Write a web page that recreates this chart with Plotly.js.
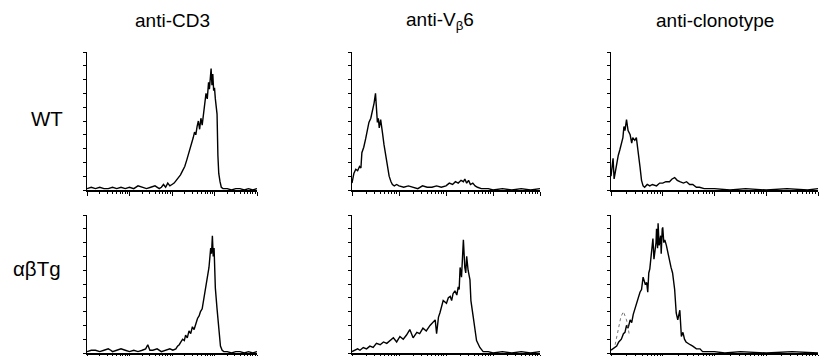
<!DOCTYPE html>
<html><head><meta charset="utf-8">
<script src="https://cdn.plot.ly/plotly-3.0.1.min.js"></script>
<style>html,body{margin:0;padding:0;background:#fff}#chart{width:820px;height:356px}</style>
</head><body><div id="chart"></div>
<script>
// Column titles and row labels
const columnTitles = ["anti-CD3", "anti-V<sub>β</sub>6", "anti-clonotype"];
const rowLabels = ["WT", "αβTg"];

// Histogram data: x = fluorescence (log decades, 0..4), y = relative cell number (0..100)
const cd3WtX = [0,0.1,0.2,0.3,0.4,0.5,0.6,0.7,0.8,0.9,1.0,1.1,1.2,1.3,1.4,1.5,1.6,1.7,1.75,1.8,1.85,1.9,1.95,2.0,2.05,2.1,2.15,2.2,2.25,2.3,2.35,2.4,2.45,2.5,2.53,2.56,2.59,2.62,2.65,2.68,2.71,2.74,2.77,2.8,2.83,2.86,2.88,2.9,2.92,2.94,2.96,2.98,3.0,3.02,3.04,3.06,3.08,3.1,3.13,3.16,3.2,3.3,3.4,3.5,3.6,3.7,3.8,3.9,4.0];
const cd3WtY = [1,2,1,2,1,1,2,1,2,1,2,1,3,2,1,2,3,1,2,4,2,5,3,4,5,7,9,11,14,17,22,27,33,38,42,40,46,50,44,52,47,55,63,70,66,78,73,82,88,76,84,72,74,66,60,55,25,12,6,2,1,1,0,1,1,0,1,0,1];

const vb6WtX = [0,0.04,0.08,0.12,0.16,0.19,0.21,0.25,0.29,0.33,0.36,0.4,0.43,0.47,0.5,0.52,0.54,0.56,0.58,0.61,0.63,0.65,0.68,0.72,0.76,0.79,0.83,0.86,0.9,0.95,1.0,1.1,1.2,1.3,1.4,1.5,1.6,1.7,1.8,1.9,2.0,2.07,2.14,2.2,2.26,2.32,2.37,2.4,2.44,2.48,2.52,2.57,2.62,2.67,2.75,2.9,3.0,3.2,3.4,3.6,3.8,4.0];
const vb6WtY = [5,12,15,14,17,16,27,31,37,44,49,52,56,63,70,58,49,52,45,51,47,41,33,25,16,10,6,4,3,4,3,2,3,2,1,3,2,2,3,2,3,5,4,6,5,7,6,8,5,7,4,5,3,2,1,1,0,1,0,1,0,1];

const cloWtX = [0,0.01,0.04,0.06,0.08,0.11,0.14,0.17,0.2,0.23,0.25,0.27,0.3,0.33,0.37,0.4,0.42,0.46,0.49,0.52,0.56,0.59,0.62,0.65,0.7,0.75,0.8,0.88,0.94,1.0,1.06,1.13,1.18,1.23,1.28,1.33,1.4,1.46,1.52,1.58,1.65,1.71,1.8,2.0,2.3,2.6,3.0,3.4,3.8,4.0];
const cloWtY = [10,13,23,8,12,20,25,29,34,38,46,43,51,43,40,34,38,36,38,27,17,7,3,2,4,3,4,3,5,5,6,6,8,9,7,6,5,6,4,4,2,2,1,1,0,1,0,1,0,1];

const cd3TgX = [0,0.1,0.2,0.3,0.4,0.5,0.56,0.6,0.7,0.8,0.9,1.0,1.1,1.2,1.3,1.38,1.43,1.48,1.55,1.65,1.75,1.85,1.95,2.02,2.09,2.13,2.17,2.21,2.25,2.29,2.32,2.36,2.4,2.44,2.48,2.52,2.56,2.6,2.64,2.67,2.71,2.75,2.79,2.83,2.87,2.91,2.93,2.95,2.97,2.99,3.02,3.06,3.08,3.1,3.12,3.14,3.18,3.22,3.3,3.4,3.5,3.6,3.7,3.8,3.9,4.0];
const cd3TgY = [1,2,2,1,2,3,2,1,2,3,2,1,2,1,2,3,6,2,2,3,1,2,3,2,3,5,6,8,10,9,13,11,16,14,19,17,21,25,27,30,32,40,48,57,62,76,72,85,70,76,47,32,24,20,12,5,2,1,1,0,1,1,0,1,0,1];

const vb6TgX = [0,0.06,0.12,0.17,0.24,0.31,0.38,0.45,0.52,0.6,0.67,0.74,0.81,0.88,0.95,1.02,1.09,1.16,1.23,1.3,1.38,1.44,1.51,1.58,1.66,1.71,1.77,1.8,1.84,1.87,1.94,2.01,2.05,2.09,2.12,2.15,2.19,2.23,2.26,2.28,2.3,2.33,2.35,2.37,2.4,2.42,2.44,2.47,2.51,2.53,2.58,2.62,2.65,2.72,2.79,2.9,3.0,3.2,3.4,3.6,3.8,4.0];
const vb6TgY = [1,2,3,2,4,3,5,4,7,6,8,7,9,11,8,12,10,13,17,11,15,14,18,16,20,22,24,14,26,29,38,36,40,41,38,43,45,42,48,46,62,55,76,82,62,58,70,60,53,38,26,16,9,4,1,1,0,1,0,1,0,1];

const cloTgX = [0,0.03,0.06,0.11,0.15,0.2,0.24,0.27,0.3,0.33,0.37,0.4,0.43,0.46,0.49,0.52,0.56,0.59,0.62,0.66,0.69,0.71,0.73,0.75,0.77,0.79,0.81,0.83,0.85,0.87,0.88,0.9,0.91,0.93,0.94,0.96,0.97,0.99,1.0,1.02,1.04,1.07,1.1,1.13,1.16,1.19,1.23,1.26,1.29,1.33,1.36,1.39,1.42,1.45,1.48,1.53,1.58,1.65,1.72,1.77,1.85,2.0,2.2,2.5,3.0,3.5,4.0];
const cloTgY = [2,3,4,5,8,10,14,15,20,18,24,22,28,32,36,40,44,46,55,50,51,44,58,61,70,75,83,68,73,80,90,76,94,78,80,85,72,90,91,80,82,78,72,68,62,58,46,29,24,31,12,15,10,8,7,6,5,3,3,1,1,1,0,1,0,1,0];

// Faint control overlay in the αβTg anti-clonotype panel
const cloTgCtrlX = [0.08,0.14,0.19,0.24,0.3,0.36];
const cloTgCtrlY = [6,18,26,30,24,12];

const panels = [
  {x: cd3WtX, y: cd3WtY}, {x: vb6WtX, y: vb6WtY}, {x: cloWtX, y: cloWtY},
  {x: cd3TgX, y: cd3TgY}, {x: vb6TgX, y: vb6TgY}, {x: cloTgX, y: cloTgY}
];

const colDomains = [[87/820, 257/820], [352/820, 540/820], [611/820, 818/820]];
const rowDomains = [[1 - 190/356, 1 - 52/356], [1 - 353/356, 1 - 215/356]];

const decadeTicks = [0,1,2,3,4];
const minorTicks = [];
for (let d = 0; d < 4; d++) for (let k = 2; k <= 9; k++) minorTicks.push(d + Math.log10(k));

const traces = [];
const layout = {
  width: 820, height: 356,
  margin: {l: 0, r: 0, t: 0, b: 0},
  paper_bgcolor: '#ffffff', plot_bgcolor: '#ffffff',
  showlegend: false,
  font: {family: 'Liberation Sans, Arial, sans-serif', color: '#000'},
  annotations: []
};

panels.forEach((p, i) => {
  const n = i + 1;
  const xa = n === 1 ? 'x' : 'x' + n;
  const ya = n === 1 ? 'y' : 'y' + n;
  traces.push({
    type: 'scatter', mode: 'lines', x: p.x, y: p.y,
    xaxis: xa, yaxis: ya,
    line: {color: '#000', width: 1.4}, hoverinfo: 'skip'
  });
  const row = Math.floor(i / 3), col = i % 3;
  layout['xaxis' + (n === 1 ? '' : n)] = {
    domain: colDomains[col], anchor: ya, range: [0, 4],
    showgrid: false, zeroline: false, showline: true, linecolor: '#000', linewidth: 1.5,
    ticks: 'outside', tickmode: 'array', tickvals: decadeTicks, ticklen: 4, tickcolor: '#000', tickwidth: 1,
    showticklabels: false,
    minor: {ticks: 'outside', tickmode: 'array', tickvals: minorTicks, ticklen: 2, tickcolor: '#000', tickwidth: 1},
    fixedrange: true
  };
  layout['yaxis' + (n === 1 ? '' : n)] = {
    domain: rowDomains[row], anchor: xa, range: [0, 100],
    showgrid: false, zeroline: false, showline: true, linecolor: '#000', linewidth: 1.5,
    ticks: 'outside', dtick: 10, ticklen: 3, tickcolor: '#000', tickwidth: 1,
    showticklabels: false, fixedrange: true
  };
});

traces.push({
  type: 'scatter', mode: 'lines', x: cloTgCtrlX, y: cloTgCtrlY,
  xaxis: 'x6', yaxis: 'y6',
  line: {color: '#777', width: 1, dash: 'dot'}, hoverinfo: 'skip'
});

const titleX = [172, 440, 715];
columnTitles.forEach((t, i) => {
  layout.annotations.push({
    text: t, xref: 'paper', yref: 'paper', x: titleX[i] / 820, y: 1 - 21 / 356,
    xanchor: 'center', yanchor: 'middle', showarrow: false,
    font: {size: 19, color: '#000', family: 'Liberation Sans, Arial, sans-serif'}
  });
});
const rowX = [47, 37], rowY = [118, 268];
rowLabels.forEach((t, i) => {
  layout.annotations.push({
    text: t, xref: 'paper', yref: 'paper', x: rowX[i] / 820, y: 1 - rowY[i] / 356,
    xanchor: 'center', yanchor: 'middle', showarrow: false,
    font: {size: 20.5, color: '#000', family: 'Liberation Sans, Arial, sans-serif'}
  });
});

Plotly.newPlot('chart', traces, layout, {staticPlot: true, displayModeBar: false});
</script>
</body></html>
